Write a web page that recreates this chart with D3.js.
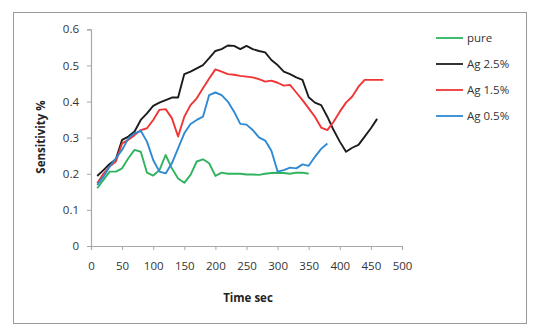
<!DOCTYPE html>
<html>
<head>
<meta charset="utf-8">
<script src="https://cdn.jsdelivr.net/npm/d3@7"></script>
<style>
  body { margin: 0; background: #fff; }
  svg { display: block; font-family: "Open Sans", "Liberation Sans", sans-serif; }
</style>
</head>
<body>
<div id="chart"></div>
<script>
// Sensitivity vs time - line chart

const times = d3.range(10, 480, 10);
const xTicks = [0, 50, 100, 150, 200, 250, 300, 350, 400, 450, 500];
const yTicks = [0, 0.1, 0.2, 0.3, 0.4, 0.5, 0.6];

const pure = [0.16, 0.183, 0.206, 0.206, 0.215, 0.243, 0.266, 0.261, 0.203, 0.195,
  0.21, 0.252, 0.215, 0.187, 0.175, 0.197, 0.234, 0.24, 0.229, 0.194,
  0.203, 0.2, 0.2, 0.2, 0.198, 0.198, 0.197, 0.2, 0.202, 0.203,
  0.202, 0.2, 0.203, 0.203, 0.2];
const ag25 = [0.194, 0.21, 0.227, 0.24, 0.294, 0.303, 0.317, 0.349, 0.367, 0.388,
  0.397, 0.404, 0.411, 0.411, 0.476, 0.483, 0.492, 0.501, 0.52, 0.54,
  0.545, 0.555, 0.554, 0.545, 0.554, 0.545, 0.54, 0.536, 0.515, 0.501,
  0.483, 0.476, 0.467, 0.46, 0.412, 0.397, 0.39, 0.358, 0.321, 0.289,
  0.261, 0.272, 0.28, 0.303, 0.326, 0.352];
const ag15 = [0.174, 0.2, 0.22, 0.234, 0.284, 0.294, 0.307, 0.321, 0.326, 0.349,
  0.377, 0.379, 0.354, 0.303, 0.358, 0.39, 0.409, 0.437, 0.464, 0.489,
  0.483, 0.476, 0.474, 0.471, 0.469, 0.467, 0.462, 0.455, 0.458, 0.452,
  0.444, 0.446, 0.425, 0.404, 0.381, 0.358, 0.328, 0.321, 0.344, 0.372,
  0.397, 0.414, 0.441, 0.46, 0.46, 0.46, 0.46];
const ag05 = [0.169, 0.192, 0.22, 0.243, 0.266, 0.298, 0.312, 0.319, 0.289, 0.238,
  0.206, 0.201, 0.229, 0.27, 0.312, 0.338, 0.349, 0.358, 0.418, 0.425,
  0.418, 0.4, 0.372, 0.338, 0.336, 0.321, 0.301, 0.292, 0.264, 0.206,
  0.21, 0.217, 0.215, 0.226, 0.222, 0.247, 0.269, 0.284];

const seriesNames = ['pure', 'Ag 2.5%', 'Ag 1.5%', 'Ag 0.5%'];
const seriesValues = [pure, ag25, ag15, ag05];
const colors = ['#2fb35e', '#1c1c1c', '#ef3535', '#2f8ad3'];

const totalWidth = 537, totalHeight = 329;

const svg = d3.select('#chart').append('svg')
    .attr('width', totalWidth)
    .attr('height', totalHeight);

// outer frame
svg.append('rect')
    .attr('x', 13.5).attr('y', 12.5)
    .attr('width', 513).attr('height', 311)
    .attr('fill', '#fff')
    .attr('stroke', '#9a9a9a')
    .attr('stroke-width', 1);

const x = d3.scaleLinear().domain([0, 500]).range([91, 402]);
const y = d3.scaleLinear().domain([0, 0.6]).range([246, 29.3]);

// axes
const xAxis = svg.append('g')
    .attr('transform', `translate(0,${y(0)})`)
    .call(d3.axisBottom(x).tickValues(xTicks).tickSize(4).tickPadding(12).tickFormat(d3.format('d')));
const yAxis = svg.append('g')
    .attr('transform', `translate(${x(0)},0)`)
    .call(d3.axisLeft(y).tickValues(yTicks).tickSize(4).tickPadding(8).tickFormat(d => d === 0 ? '0' : d3.format('.1f')(d)));

[xAxis, yAxis].forEach(a => {
    a.select('.domain').attr('stroke', '#a8a8a8').attr('stroke-width', 1.2);
    a.selectAll('.tick line').attr('stroke', '#a8a8a8');
    a.selectAll('.tick text')
        .attr('fill', '#333')
        .style('font-size', '11.5px')
        .style('font-family', '"Open Sans", sans-serif');
});

// lines
const line = d3.line()
    .x((d, i) => x(times[i]))
    .y(d => y(d));

svg.selectAll('.series')
    .data(seriesValues)
    .enter()
    .append('path')
    .attr('class', 'series')
    .attr('d', d => line(d))
    .attr('fill', 'none')
    .attr('stroke', (d, i) => colors[i])
    .attr('stroke-width', 1.9)
    .attr('stroke-linejoin', 'round');

// axis titles
svg.append('text')
    .attr('x', 248)
    .attr('y', 302)
    .attr('text-anchor', 'middle')
    .style('font-size', '11.5px')
    .style('font-weight', 'bold')
    .attr('fill', '#222')
    .text('Time sec');

svg.append('text')
    .attr('transform', 'rotate(-90)')
    .attr('x', -137)
    .attr('y', 45)
    .attr('text-anchor', 'middle')
    .style('font-size', '11.5px')
    .style('font-weight', 'bold')
    .attr('fill', '#222')
    .text('Sensitivity %');

// legend
const legend = svg.append('g')
    .attr('transform', 'translate(436,38)');

const items = legend.selectAll('.legend-item')
    .data(seriesNames)
    .enter()
    .append('g')
    .attr('class', 'legend-item')
    .attr('transform', (d, i) => `translate(0,${i * 26})`);

items.append('line')
    .attr('x1', 0).attr('x2', 27)
    .attr('y1', 0).attr('y2', 0)
    .attr('stroke', (d, i) => colors[i])
    .attr('stroke-width', 1.8);

items.append('text')
    .attr('x', 31)
    .attr('y', 0)
    .attr('dy', '.35em')
    .style('font-size', '11.5px')
    .attr('fill', '#333')
    .text(d => d);
</script>
</body>
</html>
